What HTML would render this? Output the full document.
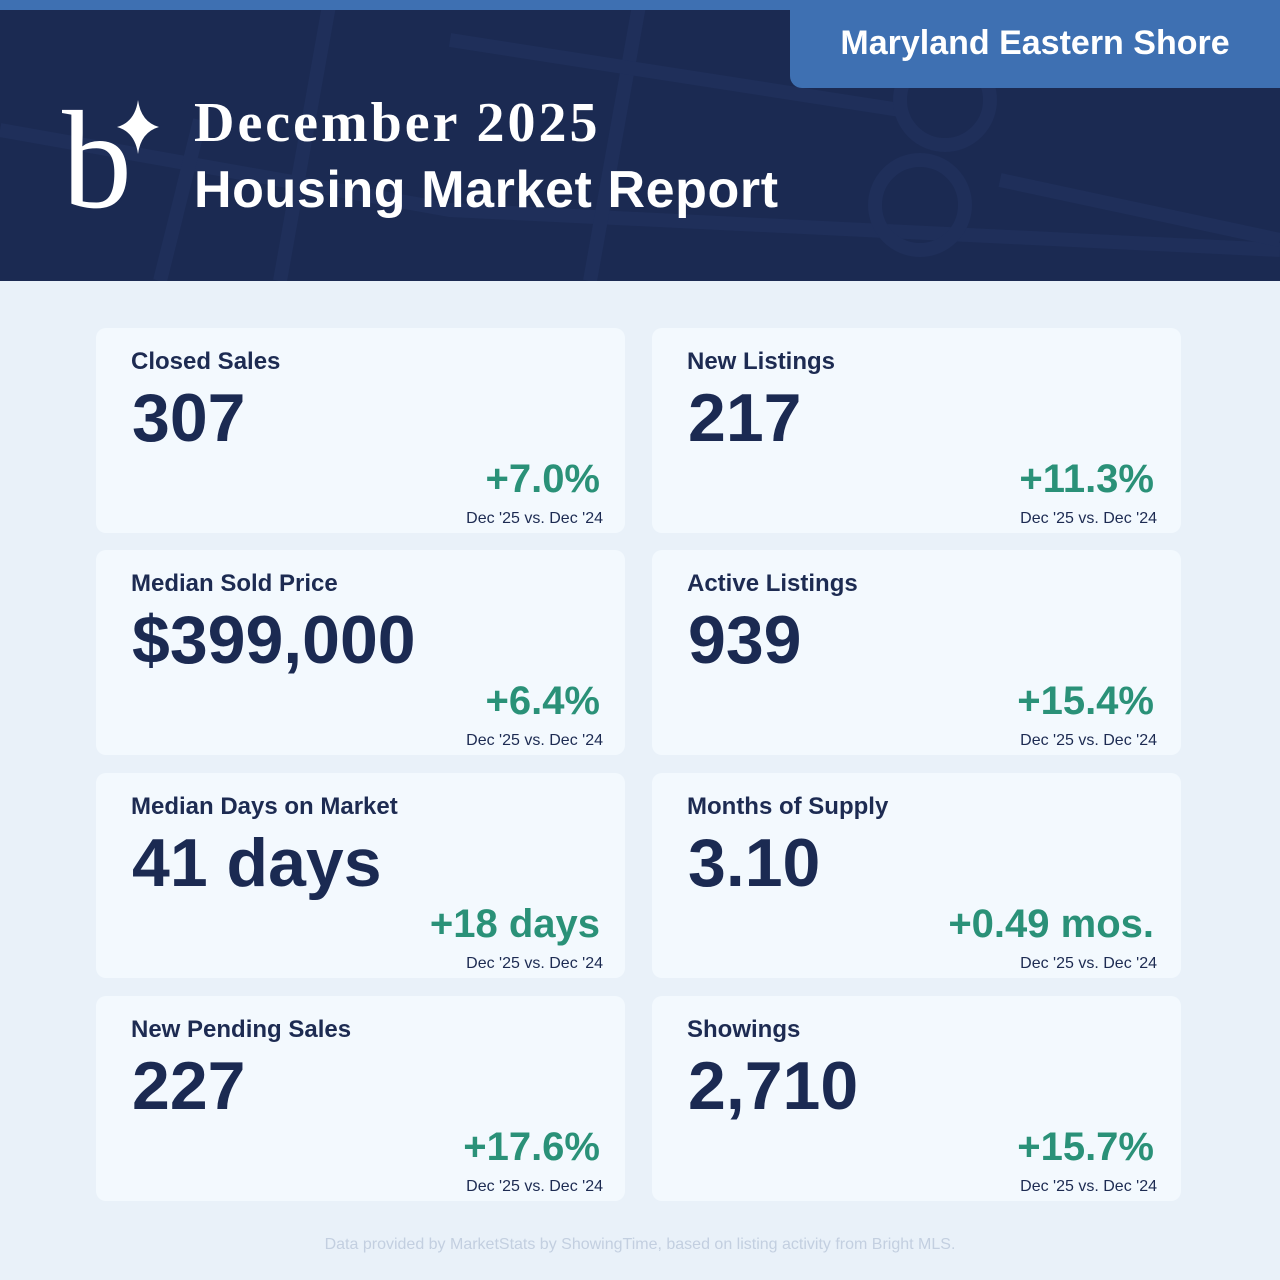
<!DOCTYPE html>
<html><head><meta charset="utf-8"><style>
*{margin:0;padding:0;box-sizing:border-box}
body{width:1280px;height:1280px;background:#e9f1f9;font-family:"Liberation Sans",sans-serif;position:relative;overflow:hidden}
.hdr{position:absolute;left:0;top:0;width:1280px;height:281px;background:#1b2a52;overflow:hidden}
.stripe{position:absolute;left:0;top:0;width:1280px;height:10px;background:#3e70b2}
.badge{position:absolute;left:790px;top:0;width:490px;height:88px;background:#3e70b2;border-bottom-left-radius:12px;color:#fff;font-weight:bold;font-size:34px;text-align:center;line-height:86px}
.t1{position:absolute;left:194px;top:91px;color:#fff;font-family:"Liberation Serif",serif;font-weight:bold;font-size:56px;letter-spacing:3px;line-height:64px}
.t2{position:absolute;left:194px;top:158px;color:#fff;font-weight:bold;font-size:52px;letter-spacing:0.6px;line-height:64px}
.card{position:absolute;width:529px;height:205px;background:#f3f9fe;border-radius:10px;color:#1b2a52}
.lab{position:absolute;left:35px;top:20px;font-size:24px;font-weight:bold;color:#1d2b52}
.val{position:absolute;left:36px;top:50px;font-size:68px;font-weight:bold;line-height:80px}
.chg{position:absolute;right:25px;top:128px;font-size:40px;font-weight:bold;color:#2a9178;line-height:46px}
.card.r .chg{right:27px}
.card.r .dt{right:24px}
.dt{position:absolute;right:22px;top:182px;font-size:16px;color:#1d2b52}
.foot{position:absolute;left:0;width:1280px;top:1236px;text-align:center;color:#c3cfe0;font-size:16px}
</style></head><body>
<div class="hdr">
<svg width="1280" height="281" style="position:absolute;left:0;top:0">
<g stroke="#1f2f5a" stroke-width="14" fill="none">
<path d="M0 130 L450 210 L1280 250"/><path d="M330 0 L280 281"/><path d="M640 0 L590 281"/><path d="M450 40 L900 110"/>
<circle cx="945" cy="100" r="45"/><circle cx="920" cy="205" r="45"/><path d="M1000 180 L1280 240"/><path d="M160 281 L200 120"/>
</g></svg>
<div class="stripe"></div>
<div class="badge">Maryland Eastern Shore</div>
<svg width="100" height="110" style="position:absolute;left:62px;top:100px">
<text x="0" y="107" fill="#fff" font-family="Liberation Serif,serif" font-size="140">b</text>
<path d="M76 0 Q79 22 97 27 Q79 32 76 54 Q73 32 55 27 Q73 22 76 0Z" fill="#fff"/>
</svg>
<div class="t1">December 2025</div>
<div class="t2">Housing Market Report</div>
</div>

<div class="card" style="left:96px;top:328px"><div class="lab">Closed Sales</div><div class="val">307</div><div class="chg">+7.0%</div><div class="dt">Dec '25 vs. Dec '24</div></div>
<div class="card r" style="left:652px;top:328px"><div class="lab">New Listings</div><div class="val">217</div><div class="chg">+11.3%</div><div class="dt">Dec '25 vs. Dec '24</div></div>
<div class="card" style="left:96px;top:550px"><div class="lab">Median Sold Price</div><div class="val">$399,000</div><div class="chg">+6.4%</div><div class="dt">Dec '25 vs. Dec '24</div></div>
<div class="card r" style="left:652px;top:550px"><div class="lab">Active Listings</div><div class="val">939</div><div class="chg">+15.4%</div><div class="dt">Dec '25 vs. Dec '24</div></div>
<div class="card" style="left:96px;top:773px"><div class="lab">Median Days on Market</div><div class="val">41 days</div><div class="chg">+18 days</div><div class="dt">Dec '25 vs. Dec '24</div></div>
<div class="card r" style="left:652px;top:773px"><div class="lab">Months of Supply</div><div class="val">3.10</div><div class="chg">+0.49 mos.</div><div class="dt">Dec '25 vs. Dec '24</div></div>
<div class="card" style="left:96px;top:996px"><div class="lab">New Pending Sales</div><div class="val">227</div><div class="chg">+17.6%</div><div class="dt">Dec '25 vs. Dec '24</div></div>
<div class="card r" style="left:652px;top:996px"><div class="lab">Showings</div><div class="val">2,710</div><div class="chg">+15.7%</div><div class="dt">Dec '25 vs. Dec '24</div></div>

<div class="foot">Data provided by MarketStats by ShowingTime, based on listing activity from Bright MLS.</div>
</body></html>
